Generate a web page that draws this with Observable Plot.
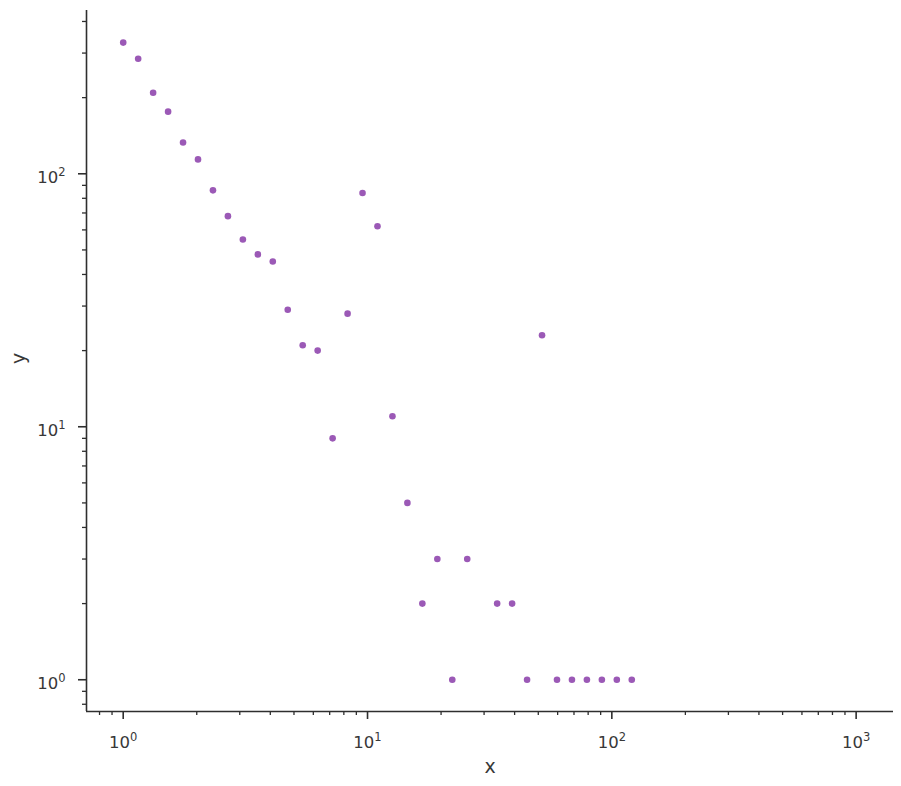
<!DOCTYPE html>
<html><head><meta charset="utf-8">
<script src="https://cdn.jsdelivr.net/npm/d3@7"></script>
<script src="https://cdn.jsdelivr.net/npm/@observablehq/plot@0.6"></script>
<style>body{margin:0;background:#fff}</style>
</head><body><div id="chart"></div>
<script>
const xValues = [1.0, 1.1514, 1.3257, 1.5264, 1.7575, 2.0236, 2.33, 2.6827, 3.0888, 3.5565,
  4.0949, 4.7149, 5.4287, 6.2506, 7.1969, 8.2864, 9.541, 10.985, 12.649, 14.563,
  16.768, 19.307, 22.23, 25.595, 33.932, 39.069, 44.984, 51.795, 59.636, 68.665,
  79.06, 91.03, 104.81, 120.68];
const yValues = [330, 285, 209, 176, 133, 114, 86, 68, 55, 48,
  45, 29, 21, 20, 9, 28, 84, 62, 11, 5,
  2, 3, 1, 3, 2, 2, 1, 23, 1, 1,
  1, 1, 1, 1];
const majorTicksX = [1, 10, 100, 1000];
const majorTicksY = [1, 10, 100];
const minorTicksX = [0.8, 0.9, 2, 3, 4, 5, 6, 7, 8, 9, 20, 30, 40, 50, 60, 70, 80, 90, 200, 300, 400, 500, 600, 700, 800, 900];
const minorTicksY = [0.8, 0.9, 2, 3, 4, 5, 6, 7, 8, 9, 20, 30, 40, 50, 60, 70, 80, 90, 200, 300, 400];
const xDomain = [0.7075, 1422];
const yDomain = [0.749, 442];
const axisLabelX = "x";
const axisLabelY = "y";

const data = xValues.map((x, i) => ({x, y: yValues[i]}));
const ink = "#2e2e2e";
const textInk = "#383838";
const sup = d => `10^${Math.round(Math.log10(d))}`;

const chart = Plot.plot({
  width: 901, height: 786,
  marginTop: 10, marginRight: 8, marginBottom: 75, marginLeft: 86,
  style: {fontFamily: "DejaVu Sans", fontSize: "16px", color: ink, background: "#fff"},
  x: {type: "log", domain: xDomain, label: null},
  y: {type: "log", domain: yDomain, label: null},
  marks: [
    Plot.axisX({ticks: minorTicksX, tickSize: 4, tickFormat: () => "", strokeWidth: 1.3, label: null}),
    Plot.axisX({ticks: majorTicksX, tickSize: 8, tickPadding: 17, tickFormat: sup, strokeWidth: 1.6, fontSize: 16.5, fill: textInk, label: null}),
    Plot.axisY({ticks: minorTicksY, tickSize: 4, tickFormat: () => "", strokeWidth: 1.3, label: null}),
    Plot.axisY({ticks: majorTicksY, tickSize: 8, tickPadding: 13, tickFormat: sup, strokeWidth: 1.6, fontSize: 16.5, fill: textInk, label: null}),
    Plot.ruleX([xDomain[0]], {stroke: ink, strokeWidth: 1.6}),
    Plot.ruleY([yDomain[0]], {stroke: ink, strokeWidth: 1.6}),
    Plot.dot(data, {x: "x", y: "y", r: 3.3, fill: "#9b59b6"}),
    Plot.text([axisLabelX], {text: d => d, frameAnchor: "bottom", dy: 61, lineAnchor: "bottom", fontSize: 19, fill: textInk}),
    Plot.text([axisLabelY], {text: d => d, frameAnchor: "left", dx: -62, dy: 3, rotate: -90, lineAnchor: "bottom", fontSize: 19, fill: textInk})
  ]
});

const root = d3.select(chart);
root.selectAll('g[aria-label="y-axis tick label"] text').attr("y", "0.55em");
root.selectAll('g[aria-label="x-axis tick label"] text, g[aria-label="y-axis tick label"] text').each(function() {
  const m = /^10\^(-?\d+)$/.exec(this.textContent);
  if (!m) return;
  this.setAttribute("font-size", "16.5px");
  this.textContent = "10";
  const t = document.createElementNS("http://www.w3.org/2000/svg", "tspan");
  t.setAttribute("font-size", "11.5px");
  t.setAttribute("dy", "-6.8");
  t.textContent = m[1];
  this.appendChild(t);
});
document.getElementById("chart").appendChild(chart);
</script>
</body></html>
